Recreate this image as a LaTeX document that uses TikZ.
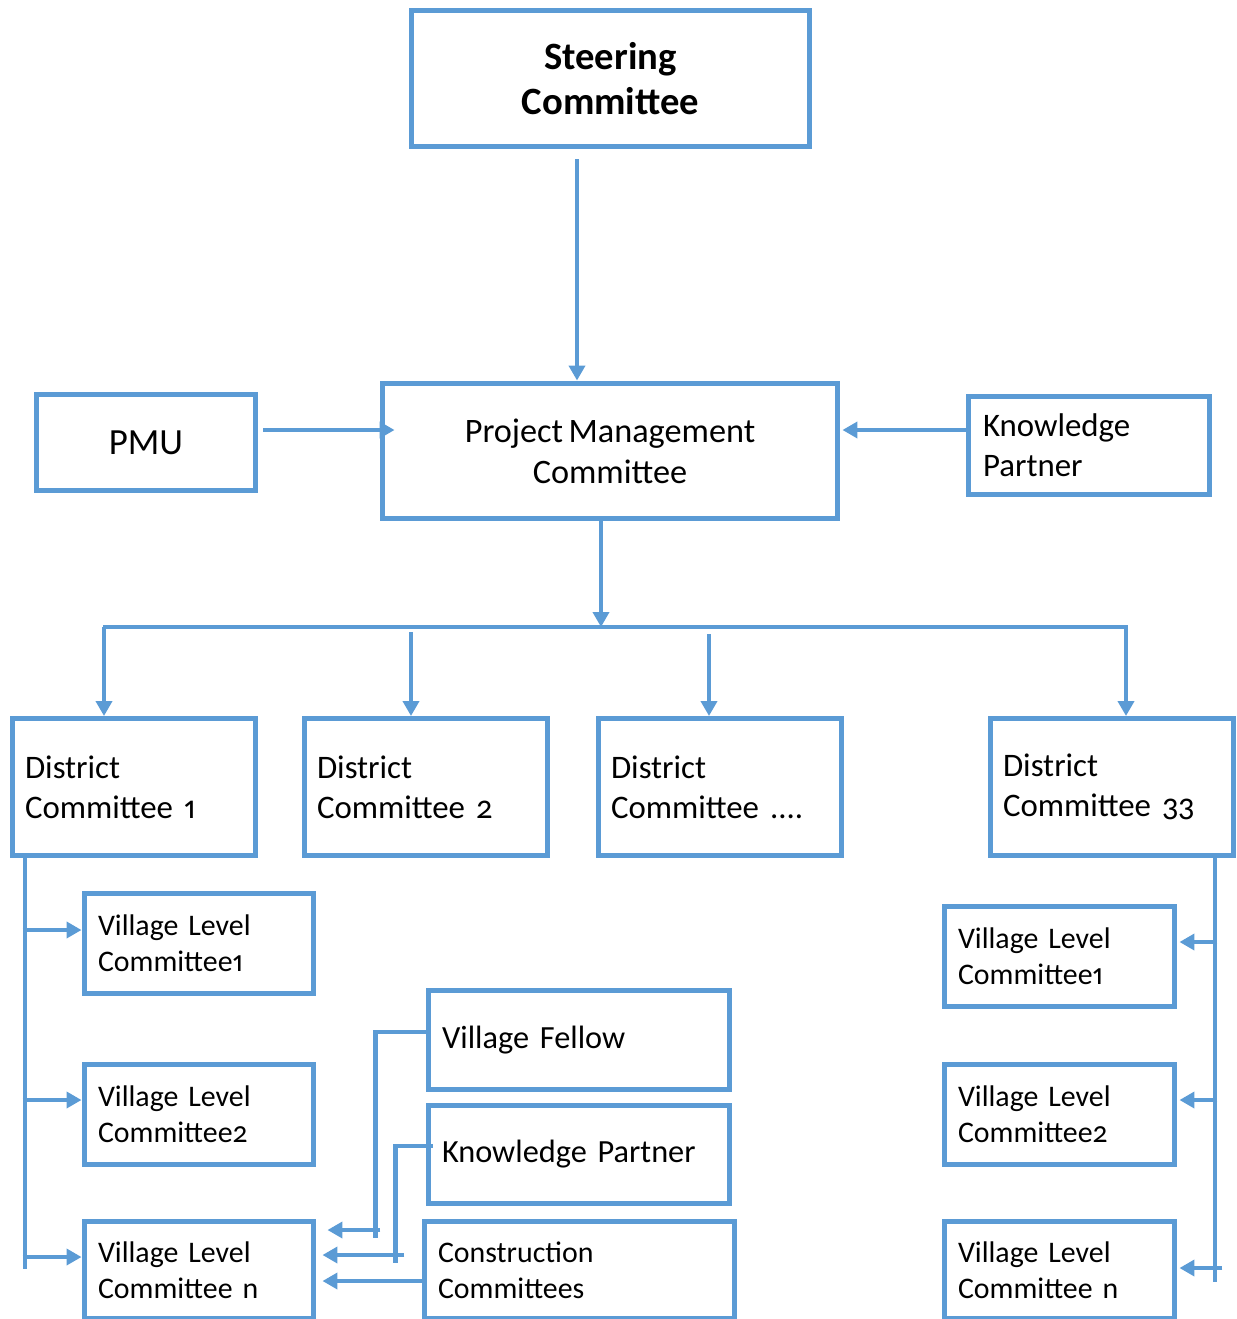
\documentclass[tikz,border=0pt]{standalone}
\usepackage{fontspec}
\setmainfont{Carlito}[Numbers={OldStyle,Proportional}, WordSpace=0.7]
\usepackage{xcolor}
\usepackage{tikz}
\usetikzlibrary{arrows.meta,calc}
\definecolor{chartblue}{RGB}{91,155,213}

\begin{document}
\begin{tikzpicture}[x=0.02cm, y=-0.02cm,
    box/.style={draw=chartblue, line width=0.1cm, inner sep=0pt},
    leftbox/.style={box, align=left, inner xsep=0.28cm},
    link/.style={draw=chartblue, line width=0.09cm},
    bigtext/.style={font=\fontsize{18.7}{22.7}\selectfont},
    smalltext/.style={font=\fontsize{17}{20.4}\selectfont},
    >={Triangle[length=0.3cm, width=0.32cm]}]

  \useasboundingbox (0,0) rectangle (1237,1319);

  % Top of the chart
  \node[box, align=center, minimum width=7.98cm, minimum height=2.74cm,
        font=\fontsize{22}{25.5}\selectfont\bfseries] (steer) at (610.5,78.5) {Steering\\Committee};
  \node[box, align=center, minimum width=9.12cm, minimum height=2.72cm,
        font=\fontsize{19.5}{23.2}\selectfont] (pmc) at (610,451) {Project Management\\Committee};
  \node[box, minimum width=4.4cm, minimum height=1.94cm,
        font=\fontsize{21}{25}\selectfont] (pmu) at (146,442.5) {PMU};
  \node[leftbox, bigtext, inner xsep=0.3cm, text width=4.24cm, minimum height=1.98cm] (kp) at (1089,445.5) {Knowledge\\Partner};

  % District committees
  \node[leftbox, bigtext, inner xsep=0.26cm, text width=4.36cm, minimum height=2.74cm] (dc1) at (134,787) {District\\Committee 1};
  \node[leftbox, bigtext, inner xsep=0.26cm, text width=4.36cm, minimum height=2.74cm] (dc2) at (426,787) {District\\Committee 2};
  \node[leftbox, bigtext, inner xsep=0.26cm, text width=4.36cm, minimum height=2.74cm] (dc3) at (720,787) {District\\Committee ....};
  \node[leftbox, bigtext, inner xsep=0.26cm, text width=4.36cm, minimum height=2.74cm] (dc4) at (1112,787) {District\\Committee 33};

  % Village level, left
  \node[leftbox, smalltext, text width=4.04cm, minimum height=2cm] (vl1) at (199,943) {Village Level\\Committee1};
  \node[leftbox, smalltext, text width=4.04cm, minimum height=2cm] (vl2) at (199,1114) {Village Level\\Committee2};
  \node[leftbox, smalltext, text width=4.04cm, minimum height=1.94cm] (vln) at (199,1270) {Village Level\\Committee n};

  % Village level, right
  \node[leftbox, smalltext, text width=4.06cm, minimum height=2cm] (vr1) at (1059.5,956) {Village Level\\Committee1};
  \node[leftbox, smalltext, text width=4.06cm, minimum height=2cm] (vr2) at (1059.5,1114) {Village Level\\Committee2};
  \node[leftbox, smalltext, text width=4.06cm, minimum height=1.94cm] (vr3) at (1059.5,1270) {Village Level\\Committee n};

  % Support at village level
  \node[leftbox, font=\fontsize{18.4}{22}\selectfont, text width=5.48cm, minimum height=1.98cm] (vf) at (579,1040) {Village Fellow};
  \node[leftbox, font=\fontsize{18.4}{22}\selectfont, text width=5.48cm, minimum height=1.96cm] (kpm) at (579,1154) {Knowledge Partner};
  \node[leftbox, smalltext, text width=5.66cm, minimum height=1.94cm] (cc) at (579.5,1270) {Construction\\Committees};

  % Links into the PMC
  \draw[link,->] ($(steer.south)+(-33.5,10)$) -- ($(pmc.north)+(-33,0)$);
  \draw[link,->] ($(pmu.east)+(5,-12.5)$) -- ($(pmc.west)+(15,-21)$);
  \draw[link,->] ($(kp.west)+(0,-15.5)$) -- ($(pmc.east)+(2,-21)$);

  % PMC down to the districts
  \coordinate (bus) at (601,627);
  \coordinate (busl) at (103,627);
  \coordinate (busr) at (1128,627);
  \coordinate (d1) at (104,627);
  \coordinate (d2) at (411,632);
  \coordinate (d3) at (709,634);
  \coordinate (d4) at (1126,627);
  \draw[link,->] ($(pmc.south)+(-9,-5)$) -- (bus);
  \draw[link] (busl) -- (busr);
  \draw[link,->] (d1) -- (d1 |- dc1.north);
  \draw[link,->] (d2) -- (d2 |- dc2.north);
  \draw[link,->] (d3) -- (d3 |- dc3.north);
  \draw[link,->] (d4) -- (d4 |- dc4.north);

  % Left trunk
  \coordinate (lt) at (25,1269);
  \draw[link] (dc1.south -| lt) -- (lt);
  \draw[link,->] ($(vl1.west)+(-59,-13)$) -- ($(vl1.west)+(0,-13)$);
  \draw[link,->] ($(vl2.west)+(-59,-14)$) -- ($(vl2.west)+(0,-14)$);
  \draw[link,->] ($(vln.west)+(-59,-13)$) -- ($(vln.west)+(0,-13)$);

  % Right trunk
  \coordinate (rt) at (1215,1282);
  \draw[link] (dc4.south -| rt) -- (rt);
  \draw[link,->] ($(vr1.east)+(40,-14)$) -- ($(vr1.east)+(2,-14)$);
  \draw[link,->] ($(vr2.east)+(40,-14)$) -- ($(vr2.east)+(2,-14)$);
  \draw[link,->] ($(vr3.east)+(45,-2)$) -- ($(vr3.east)+(2,-2)$);

  % Fellow, partner and construction into village n
  \draw[link] ($(vf.west)+(0,-8)$) -| ($(vf.west)+(-50,198)$);
  \draw[link,->] ($(vln.east)+(64,-40)$) -- ($(vln.east)+(11,-40)$);
  \draw[link] ($(kpm.west)+(7,-8)$) -| ($(kpm.west)+(-30,109)$);
  \draw[link,->] ($(vln.east)+(88,-15)$) -- ($(vln.east)+(6,-15)$);
  \draw[link,->] ($(cc.west)+(0,11)$) -- ($(vln.east)+(6,11)$);
\end{tikzpicture}
\end{document}
